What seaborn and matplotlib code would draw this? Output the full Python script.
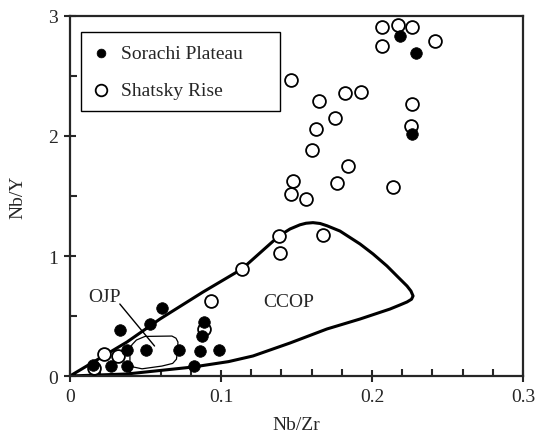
import matplotlib
matplotlib.use("Agg")
import matplotlib.pyplot as plt
import seaborn as sns
import pandas as pd
from matplotlib.ticker import MultipleLocator
from matplotlib.patches import Rectangle

# Sorachi Plateau (filled)
sorachi_nbzr = [0.2185, 0.2291, 0.2265, 0.0609, 0.0530, 0.0331, 0.0377, 0.0503, 0.0722,
                0.0861, 0.0987, 0.0152, 0.0272, 0.0377, 0.0821, 0.0887, 0.0874]
sorachi_nby = [2.833, 2.692, 2.017, 0.567, 0.433, 0.383, 0.217, 0.217, 0.217,
               0.208, 0.217, 0.092, 0.083, 0.083, 0.083, 0.450, 0.333]

# Shatsky Rise (open)
shatsky_nbzr = [0.2066, 0.2172, 0.2265, 0.2066, 0.2417, 0.1464, 0.1649, 0.1821, 0.1927,
                0.2265, 0.1755, 0.2258, 0.1629, 0.1603, 0.1841, 0.1477, 0.1768, 0.2139,
                0.1464, 0.1563, 0.1384, 0.1675, 0.1391, 0.1139, 0.0934, 0.0887, 0.0225,
                0.0318, 0.0160]
shatsky_nby = [2.908, 2.925, 2.908, 2.750, 2.792, 2.467, 2.292, 2.358, 2.367,
               2.267, 2.150, 2.083, 2.058, 1.883, 1.750, 1.625, 1.608, 1.575,
               1.517, 1.475, 1.167, 1.175, 1.025, 0.892, 0.625, 0.392, 0.183,
               0.167, 0.070]

# CCOP field outline
ccop_x = [0.0, 0.0377, 0.0596, 0.0881, 0.1139, 0.1384, 0.1457, 0.1523, 0.1563, 0.1609,
          0.1656, 0.1702, 0.1788, 0.1921, 0.2007, 0.2099, 0.2172, 0.2232, 0.2258, 0.2272,
          0.2262, 0.2232, 0.2185, 0.2119, 0.1921, 0.1702, 0.1457, 0.1212, 0.1050, 0.0815,
          0.0377, 0.0]
ccop_y = [0.0, 0.283, 0.475, 0.700, 0.892, 1.167, 1.225, 1.260, 1.273, 1.278,
          1.271, 1.252, 1.208, 1.100, 1.017, 0.917, 0.825, 0.750, 0.708, 0.667,
          0.640, 0.617, 0.592, 0.558, 0.475, 0.392, 0.275, 0.167, 0.120, 0.075,
          0.017, 0.0]

# OJP field outline
ojp_x = [0.0397, 0.0410, 0.0440, 0.0497, 0.0675, 0.0702, 0.0715, 0.0712, 0.0705, 0.0680,
         0.0609, 0.0477, 0.0420, 0.0397, 0.0397]
ojp_y = [0.208, 0.260, 0.300, 0.330, 0.333, 0.315, 0.283, 0.208, 0.140, 0.105,
         0.083, 0.060, 0.075, 0.120, 0.208]

sns.set_style("ticks")
plt.rcParams['font.family'] = ['Liberation Serif', 'DejaVu Serif']

fig = plt.figure(figsize=(5.40, 4.39), dpi=100)
ax = fig.add_axes([0.1296, 0.1412, 0.8389, 0.8201])

ax.plot(ccop_x, ccop_y, color='black', lw=2.2, zorder=2, solid_joinstyle='round')
ax.plot(ojp_x, ojp_y, color='black', lw=0.9, zorder=2, solid_joinstyle='round')

df_s = pd.DataFrame({'x': sorachi_nbzr, 'y': sorachi_nby})
df_o = pd.DataFrame({'x': shatsky_nbzr, 'y': shatsky_nby})

sns.scatterplot(data=df_o, x='x', y='y', ax=ax, s=85, facecolor='white',
                edgecolor='black', linewidth=1.3, zorder=3, label='Shatsky Rise')
sns.scatterplot(data=df_s, x='x', y='y', ax=ax, s=70, color='black',
                edgecolor='black', linewidth=0.5, zorder=4, label='Sorachi Plateau')

ax.text(0.023, 0.66, 'OJP', fontsize=14, ha='center', va='center')
ax.plot([0.033, 0.056], [0.60, 0.25], color='black', lw=1.0, zorder=2)
ax.text(0.145, 0.625, 'CCOP', fontsize=14, ha='center', va='center')

ax.set_xlim(0, 0.3)
ax.set_ylim(0, 3)
ax.xaxis.set_minor_locator(MultipleLocator(0.02))
ax.yaxis.set_minor_locator(MultipleLocator(0.5))
ax.set_xticks([0, 0.1, 0.2, 0.3])
ax.set_xticklabels(['0', '0.1', '0.2', '0.3'])
ax.set_yticks([0, 1, 2, 3])
ax.set_yticklabels(['0', '1', '2', '3'])
ax.tick_params(which='major', direction='inout', length=9, width=1.5, labelsize=14, pad=4)
ax.tick_params(which='minor', direction='in', length=5, width=1.5)
for sp in ax.spines.values():
    sp.set_linewidth(1.6)
    sp.set_visible(True)

ax.set_xlabel('Nb/Zr', fontsize=14, labelpad=8)
ax.set_ylabel('Nb/Y', fontsize=14, labelpad=16)

# legend box
ax.add_patch(Rectangle((0.024, 0.736), 0.440, 0.220, transform=ax.transAxes,
                       facecolor='white', edgecolor='black', lw=1.0, zorder=5))
handles, labels = ax.get_legend_handles_labels()
order = [labels.index('Sorachi Plateau'), labels.index('Shatsky Rise')]
leg = ax.legend([handles[i] for i in order], [labels[i] for i in order],
                loc='center left', bbox_to_anchor=(0.042, 0.846), fontsize=14,
                frameon=False, labelspacing=1.0, handletextpad=0.45, borderpad=0,
                handlelength=1.2, borderaxespad=0)
leg.set_zorder(6)
leg.legend_handles[0].set_sizes([40])
leg.legend_handles[1].set_sizes([70])

fig.savefig('out.png', dpi=100)
